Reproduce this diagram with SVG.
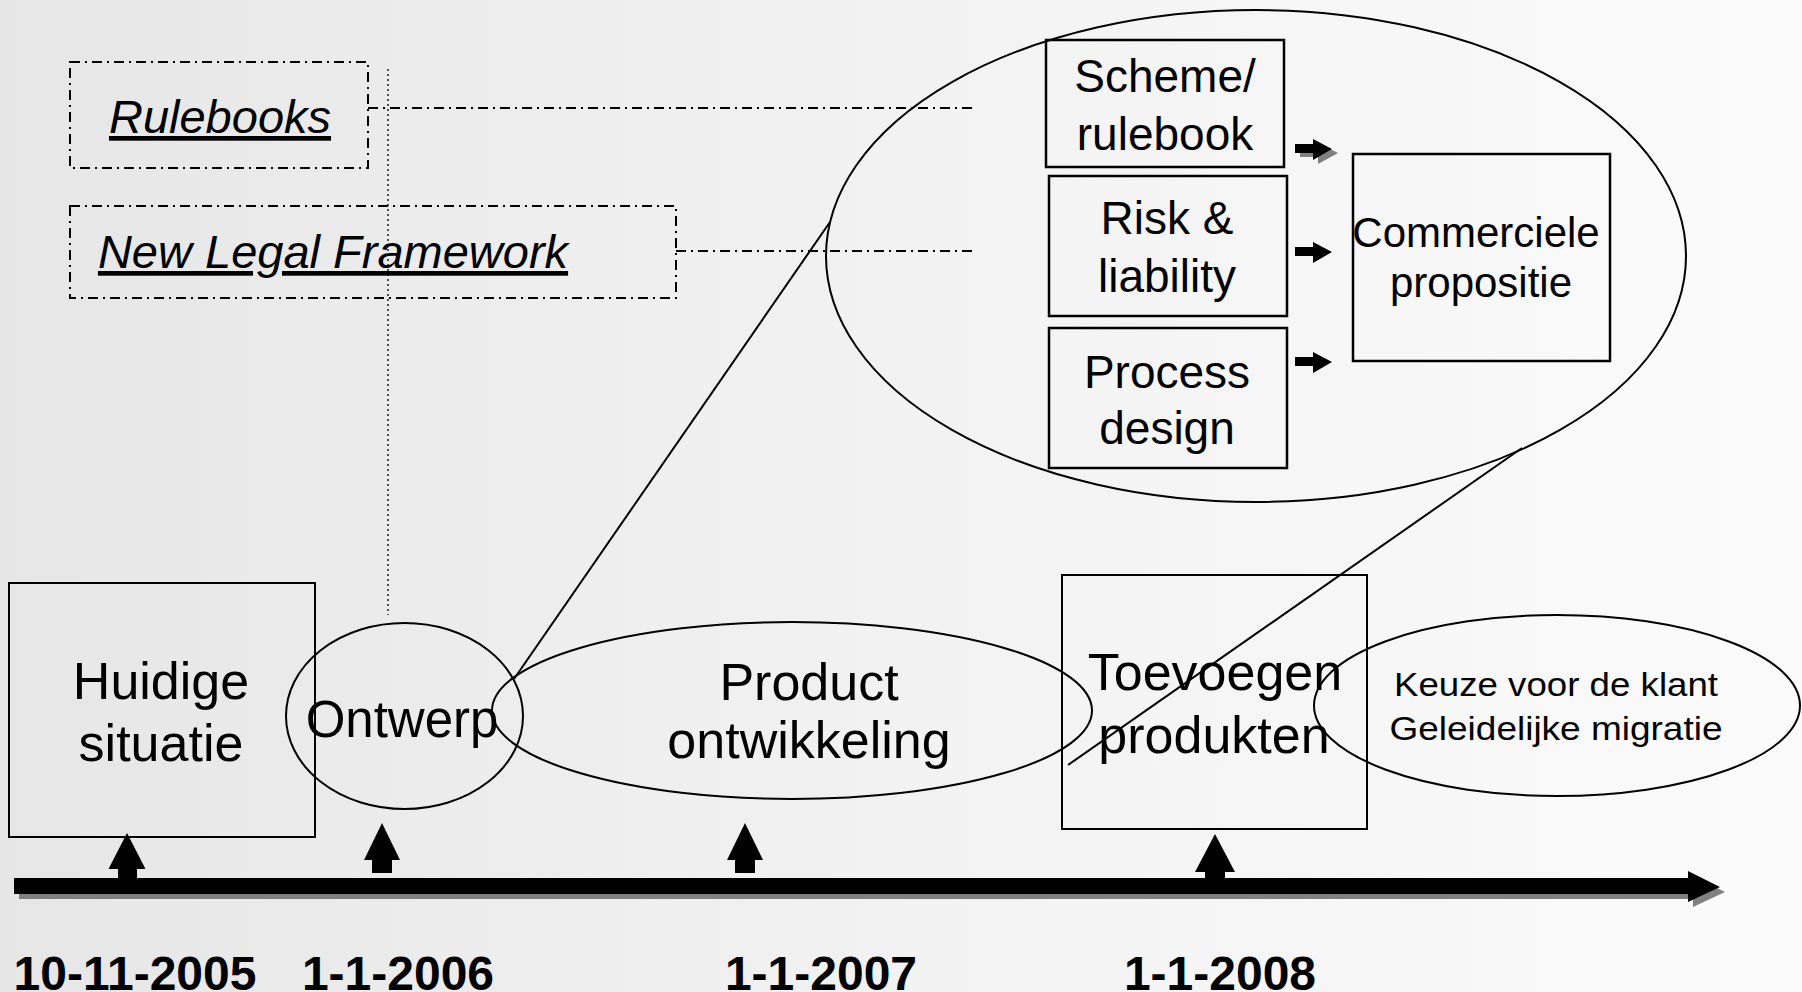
<svg xmlns="http://www.w3.org/2000/svg" width="1802" height="992" viewBox="0 0 1802 992">
<defs>
<linearGradient id="bg" x1="0" y1="0" x2="1" y2="0">
<stop offset="0" stop-color="#e6e6e6"/>
<stop offset="0.5" stop-color="#f2f2f2"/>
<stop offset="1" stop-color="#fbfbfb"/>
</linearGradient>
<style>
.t{font-family:"Liberation Sans",Arial,sans-serif;fill:#000;text-anchor:middle}
.box{fill:none;stroke:#000;stroke-width:2.5}
.ell{fill:none;stroke:#000;stroke-width:2}
.dd{fill:none;stroke:#000;stroke-width:2;stroke-dasharray:10 5 2 5}
.ln{fill:none;stroke:#000;stroke-width:2}
.blk{fill:#000}
.shd{fill:#808080}
.date{font-family:"Liberation Sans",Arial,sans-serif;font-weight:bold;font-size:48px;text-anchor:middle}
</style>
</defs>
<rect x="0" y="0" width="1802" height="992" fill="url(#bg)"/>

<g id="connectors">
<line class="dd" x1="368" y1="108" x2="977" y2="108"/>
<line class="dd" x1="676" y1="251" x2="977" y2="251"/>
<line x1="388" y1="69" x2="388" y2="615" stroke="#000" stroke-width="1.3" stroke-dasharray="2 3"/>
<line class="ln" x1="514" y1="679" x2="830" y2="222"/>
<line class="ln" x1="1068" y1="765" x2="1522" y2="448"/>
</g>

<g id="rulebooks">
<rect class="dd" x="70" y="62" width="298" height="106"/>
<text class="t" x="220" y="133" font-size="47" font-style="italic" text-decoration="underline">Rulebooks</text>
</g>

<g id="new-legal-framework">
<rect class="dd" x="70" y="206" width="606" height="92"/>
<text class="t" x="333" y="268" font-size="47" font-style="italic" text-decoration="underline">New Legal Framework</text>
</g>

<g id="detail-ellipse">
<ellipse class="ell" cx="1256" cy="256" rx="430" ry="246"/>
</g>

<g id="scheme">
<rect class="box" x="1046" y="40" width="238" height="127"/>
<text class="t" x="1165" y="92" font-size="46">Scheme/</text>
<text class="t" x="1165" y="150" font-size="46">rulebook</text>
</g>

<g id="risk">
<rect class="box" x="1049" y="176" width="238" height="140"/>
<text class="t" x="1167" y="234" font-size="46">Risk &amp;</text>
<text class="t" x="1167" y="292" font-size="46">liability</text>
</g>

<g id="process">
<rect class="box" x="1049" y="328" width="238" height="140"/>
<text class="t" x="1167" y="388" font-size="46">Process</text>
<text class="t" x="1167" y="444" font-size="46">design</text>
</g>

<g id="commerciele">
<rect class="box" x="1353" y="154" width="257" height="207"/>
<text class="t" x="1476" y="247" font-size="42">Commerciele</text>
<text class="t" x="1481" y="297" font-size="42">propositie</text>
</g>

<g id="small-arrows">
<polygon class="shd" points="1300,147 1318,147 1318,143 1338,153 1318,164 1318,157 1300,157"/>
<polygon class="blk" points="1295,144 1313,144 1313,139 1332,149 1313,160 1313,153 1295,153"/>
<polygon class="blk" points="1295,247 1313,247 1313,242 1332,252 1313,263 1313,256 1295,256"/>
<polygon class="blk" points="1295,357 1313,357 1313,352 1332,362 1313,373 1313,366 1295,366"/>
</g>

<g id="huidige">
<rect x="9" y="583" width="306" height="254" fill="none" stroke="#000" stroke-width="2"/>
<text class="t" x="161" y="699" font-size="52">Huidige</text>
<text class="t" x="161" y="761" font-size="52">situatie</text>
</g>

<g id="ontwerp">
<ellipse class="ell" cx="404.5" cy="716" rx="118.5" ry="93"/>
<text class="t" x="402" y="737" font-size="51">Ontwerp</text>
</g>

<g id="product">
<ellipse class="ell" cx="792" cy="710.5" rx="300" ry="88.5"/>
<text class="t" x="809" y="700" font-size="52">Product</text>
<text class="t" x="809" y="758" font-size="52">ontwikkeling</text>
</g>

<g id="toevoegen">
<rect x="1062" y="575" width="305" height="254" fill="none" stroke="#000" stroke-width="2"/>
<text class="t" x="1215" y="690" font-size="52">Toevoegen</text>
<text class="t" x="1214" y="753" font-size="52">produkten</text>
</g>

<g id="keuze">
<ellipse class="ell" cx="1557" cy="705.5" rx="243" ry="90.5"/>
<text class="t" x="1556" y="696" font-size="34" textLength="324" lengthAdjust="spacingAndGlyphs">Keuze voor de klant</text>
<text class="t" x="1556" y="740" font-size="34" textLength="333" lengthAdjust="spacingAndGlyphs">Geleidelijke migratie</text>
</g>

<g id="timeline">
<polygon class="shd" points="19,883 1693,883 1693,876 1725,892 1693,907 1693,899 19,899"/>
<polygon class="blk" points="14,878 1688,878 1688,871 1720,887 1688,902 1688,894 14,894"/>
<polygon class="blk" points="127,833 145.5,869 137,869 137,880 118,880 118,869 108.5,869"/>
<polygon class="blk" points="382,823 400,860 392,860 392,873 372,873 372,860 364,860"/>
<polygon class="blk" points="745,823 763,860 755,860 755,873 735,873 735,860 727,860"/>
<polygon class="blk" points="1215,834 1235,872 1225,872 1225,880 1205,880 1205,872 1195,872"/>
</g>

<g id="dates">
<text class="date" x="135" y="990">10-11-2005</text>
<text class="date" x="398" y="990">1-1-2006</text>
<text class="date" x="821" y="990">1-1-2007</text>
<text class="date" x="1220" y="990">1-1-2008</text>
</g>
</svg>
